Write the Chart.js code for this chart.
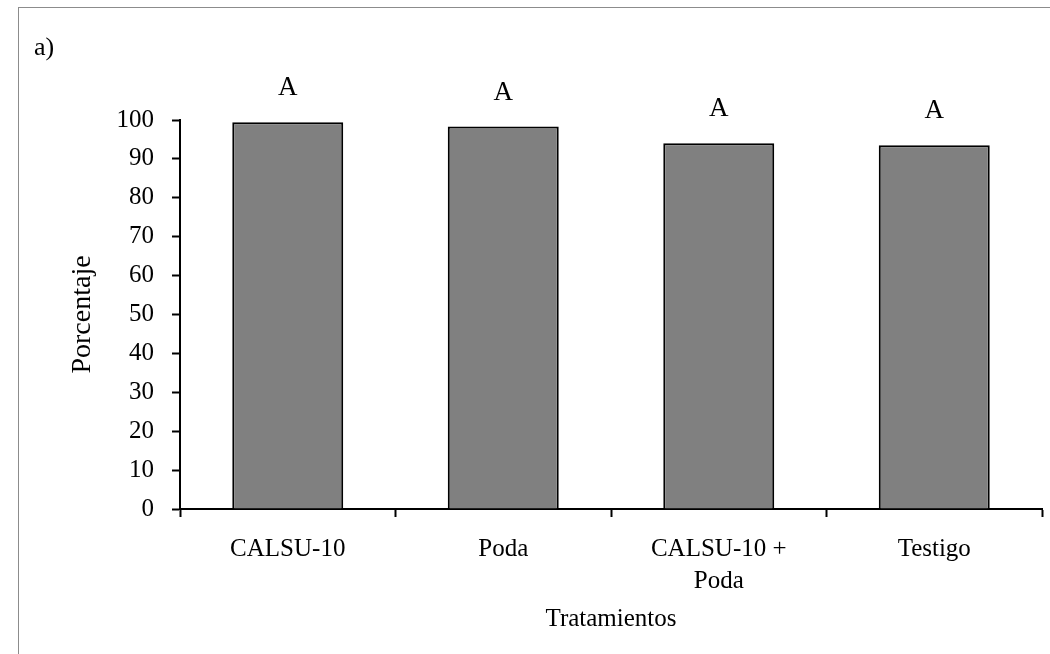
<!DOCTYPE html>
<html>
<head>
<meta charset="utf-8">
<script src="https://cdn.jsdelivr.net/npm/chart.js@4"></script>
<style>
  body { margin: 0; background: #fff; overflow: hidden; }
  #frame { position: absolute; left: 18px; top: 7px; width: 1100px; height: 700px; border: 1px solid #8c8c8c; }
  #wrap { position: absolute; left: 0; top: 0; width: 1050px; height: 654px; }
</style>
</head>
<body>
<div id="frame"></div>
<div id="wrap"><canvas id="chart" width="1050" height="654"></canvas></div>
<script>
// Chart data
const tratamientos = ['CALSU-10', 'Poda', ['CALSU-10 +', 'Poda'], 'Testigo'];
const porcentaje = [99.4, 98.3, 94.0, 93.5];
const letras = ['A', 'A', 'A', 'A'];

const serif = '"Liberation Serif", "Times New Roman", serif';

// draws the "A" letters over the bars and the "a)" panel label
const letrasPlugin = {
  id: 'letras',
  afterDatasetsDraw(chart) {
    const ctx = chart.ctx;
    const bars = chart.getDatasetMeta(0).data;
    ctx.save();
    ctx.fillStyle = '#000';
    ctx.font = '27px ' + serif;
    ctx.textAlign = 'center';
    ctx.textBaseline = 'alphabetic';
    bars.forEach((bar, i) => {
      ctx.fillText(letras[i], bar.x, bar.y - 27);
    });
    ctx.textAlign = 'left';
    ctx.font = '26px ' + serif;
    ctx.fillText('a)', 34, 55);
    ctx.restore();
  }
};

new Chart(document.getElementById('chart'), {
  type: 'bar',
  data: {
    labels: tratamientos,
    datasets: [{
      data: porcentaje,
      backgroundColor: '#808080',
      borderColor: '#000',
      borderWidth: 2,
      borderSkipped: 'bottom',
      categoryPercentage: 1,
      barPercentage: 0.515
    }]
  },
  options: {
    responsive: false,
    animation: false,
    layout: { padding: { left: 62, top: 120, right: 8, bottom: 17 } },
    plugins: {
      legend: { display: false },
      tooltip: { enabled: false }
    },
    scales: {
      x: {
        afterFit(scale) { scale.height = 654 - 17 - 509; },
        border: { color: '#000', width: 2 },
        grid: { drawOnChartArea: false, drawTicks: true, tickLength: 8, tickColor: '#000', tickWidth: 2 },
        ticks: { color: '#000', padding: 16, font: { family: serif, size: 25, lineHeight: 1.3 }, maxRotation: 0 },
        title: { display: true, text: 'Tratamientos', color: '#000', padding: 3, font: { family: serif, size: 25 } }
      },
      y: {
        min: 0,
        max: 100,
        afterFit(scale) { scale.width = 180 - 62; },
        border: { color: '#000', width: 2 },
        grid: { drawOnChartArea: false, drawTicks: true, tickLength: 8, tickColor: '#000', tickWidth: 2 },
        ticks: { stepSize: 10, color: '#000', padding: 18, font: { family: serif, size: 25 } },
        title: { display: true, text: 'Porcentaje', color: '#000', padding: 4, font: { family: serif, size: 28 } }
      }
    }
  },
  plugins: [letrasPlugin]
});
</script>
</body>
</html>
